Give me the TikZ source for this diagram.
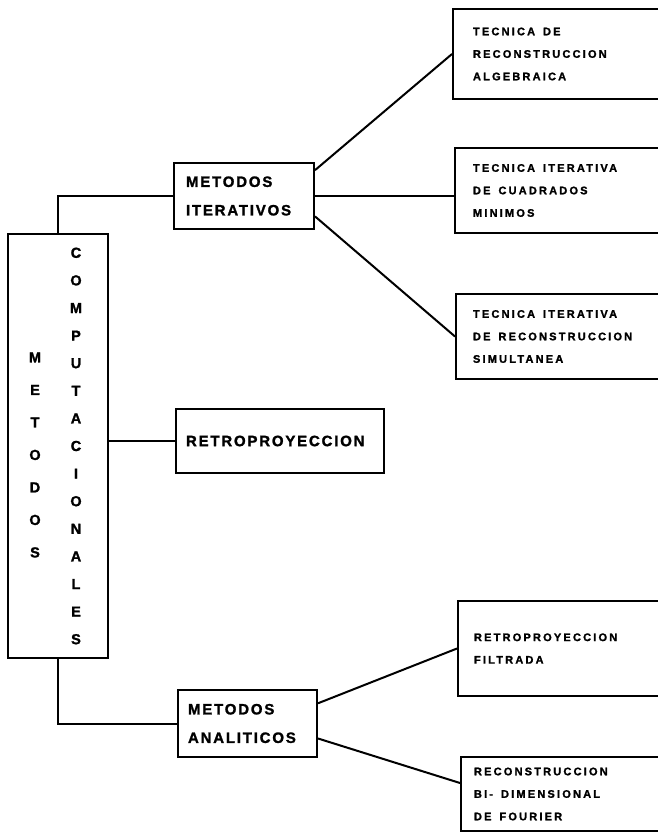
\documentclass[tikz,border=0pt]{standalone}
\usepackage{fontspec}
\newfontfamily\columna[FakeBold=1.5]{Liberation Sans Bold}
\newfontfamily\rotulo[LetterSpace=12,FakeBold=1.5]{Liberation Sans Bold}
\newfontfamily\rotulochico[LetterSpace=20,FakeBold=1.5]{Liberation Sans Bold}
\newcommand{\esp}{\hspace*{8pt}}

\begin{document}
\begin{tikzpicture}[x=1pt,y=-1pt,line width=2pt,
    caja/.style={draw,anchor=north west,align=left,inner ysep=0pt},
    grande/.style={font=\rotulo\fontsize{15}{28.5}\selectfont},
    chica/.style={font=\rotulochico\fontsize{11}{22.5}\selectfont}]
      \useasboundingbox (0,0) rectangle (658,839) ;
      \clip (0,0) rectangle (658,839) ;
      \fill[white] (0,0) rectangle (658,839) ;
      % caja principal
      \node[draw,anchor=north west,minimum width=100pt,minimum height=424pt] %
      (comp) at (7,233) {} ;
      \node[align=center,font=\columna\fontsize{14.5}{32.5}\selectfont] %
      (met) at (35,455) {M\\E\\T\\O\\D\\O\\S} ;
      \node[align=center,font=\columna\fontsize{14.5}{27.6}\selectfont] %
      (cmp) at (76,446) {C\\O\\M\\P\\U\\T\\A\\C\\I\\O\\N\\A\\L\\E\\S} ;
      % segundo nivel
      \node[caja,grande,text width=116pt,inner xsep=12pt,minimum height=66pt] %
      (iter) at (173,162) {METODOS\\ITERATIVOS} ;
      \node[caja,grande,text width=188pt,inner xsep=10pt,minimum height=64pt] %
      (retro) at (175,408) {RETROPROYECCION} ;
      \node[caja,grande,text width=119pt,inner xsep=10pt,minimum height=67pt] %
      (anal) at (177,689) {METODOS\\ANALITICOS} ;
      % tercer nivel
      \node[caja,chica,text width=228pt,inner xsep=20pt,minimum height=90pt] %
      (tecA) at (452,8) {TECNICA\esp DE\\RECONSTRUCCION\\ALGEBRAICA} ;
      \node[caja,chica,text width=230pt,inner xsep=18pt,minimum height=85pt] %
      (tecC) at (454,147) {TECNICA\esp ITERATIVA\\DE\esp CUADRADOS\\MINIMOS} ;
      \node[caja,chica,text width=231pt,inner xsep=17pt,minimum height=85pt] %
      (tecS) at (455,293) {TECNICA\esp ITERATIVA\\DE\esp RECONSTRUCCION\\SIMULTANEA} ;
      \node[caja,chica,text width=231pt,inner xsep=16pt,minimum height=95pt] %
      (filt) at (457,600) {RETROPROYECCION\\FILTRADA} ;
      \node[caja,chica,text width=234pt,inner xsep=13pt,minimum height=74pt] %
      (fou) at (460,756) {RECONSTRUCCION\\BI-\esp DIMENSIONAL\\DE\esp FOURIER} ;
      % conectores
      \draw (comp.north) |- (iter.west) ;
      \draw (comp.east |- retro.west) -- (retro.west) ;
      \draw (comp.south) |- (anal.west) ;
      \draw (iter.20) -- (tecA.west) ;
      \draw (iter.east) -- (iter.east -| tecC.west) ;
      \draw (iter.-16) -- (tecS.west) ;
      \draw (anal.16) -- (filt.west) ;
      \draw (anal.-12) -- ([yshift=11pt]fou.west) ;
    \end{tikzpicture}
\end{document}
